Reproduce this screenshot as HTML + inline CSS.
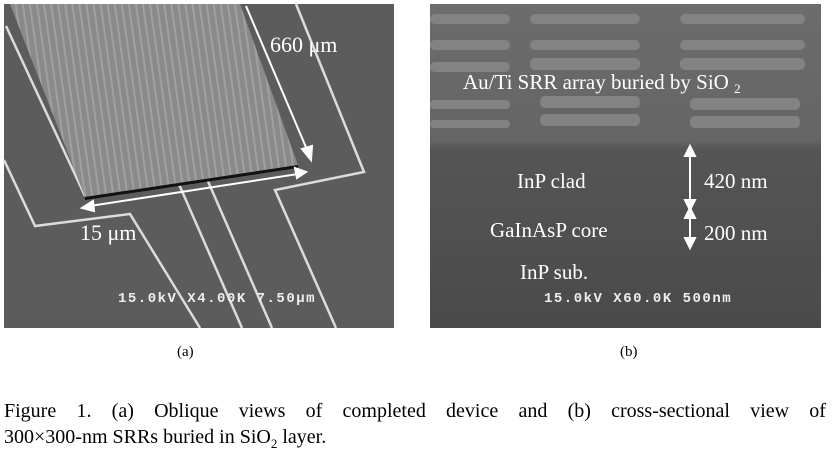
<!DOCTYPE html>
<html><head><meta charset="utf-8"><style>
body{margin:0;width:832px;height:457px;background:#fff;overflow:hidden;position:relative;font-family:"Liberation Serif",serif}
svg{position:absolute;left:0;top:0}
.cap{position:absolute;left:4px;width:822px;font-size:20px;line-height:26px;color:#000;top:398px}
.l1{white-space:nowrap;display:flex;justify-content:space-between}
.lab{position:absolute;font-size:15px;top:344px}
</style></head><body>
<svg width="832" height="457" viewBox="0 0 832 457">
<defs>
<pattern id="pl" width="7" height="7" patternUnits="userSpaceOnUse" patternTransform="rotate(-8)">
<rect width="7" height="7" fill="#8a8a8a"/><rect x="0" width="2" height="7" fill="#a0a0a0"/>
</pattern>
<linearGradient id="rb" x1="0" y1="0" x2="0" y2="1">
<stop offset="0" stop-color="#6c6c6c"/><stop offset="0.42" stop-color="#656565"/><stop offset="0.45" stop-color="#555"/><stop offset="1" stop-color="#4a4a4a"/>
</linearGradient>
</defs>
<rect x="4" y="4" width="390" height="324" fill="#5c5c5c"/>
<g fill="none" stroke="#dcdcdc" stroke-width="2.5">
<polyline points="4,160 35,226 130,214 200,328"/>
<polyline points="296,4 364,172 275,190 336,328"/>
<polyline points="178,182 242,328"/>
<polyline points="207,179 272,328"/>
<polyline points="6,26 85,196"/>
</g>
<polygon points="10,4 240,4 298,165 85,197" fill="url(#pl)"/>
<polygon points="85,197 298,165 298,168 85,200" fill="#111"/>
<g stroke="#fff" stroke-width="2" fill="#fff">
<line x1="246" y1="6" x2="308" y2="152"/><polygon points="311,160 302,149 312,146"/>
<line x1="90" y1="206" x2="298" y2="174"/><polygon points="82,208 93,201 94,211"/><polygon points="306,172 295,168 297,178"/>
</g>
<text x="270" y="52" font-family="Liberation Serif" font-size="22" fill="#fff">660 μm</text>
<text x="80" y="240" font-family="Liberation Serif" font-size="22" fill="#fff">15 μm</text>
<text x="118" y="302" font-family="Liberation Mono" font-size="14" font-weight="bold" fill="#eee" letter-spacing="1.5">15.0kV X4.00K 7.50μm</text>
<rect x="430" y="4" width="391" height="324" fill="url(#rb)"/>
<g fill="#8a8a8a" opacity="0.8">
<rect x="430" y="14" width="80" height="10" rx="5"/><rect x="530" y="14" width="110" height="10" rx="5"/><rect x="680" y="14" width="125" height="10" rx="5"/>
<rect x="430" y="40" width="80" height="10" rx="5"/><rect x="530" y="40" width="110" height="10" rx="5"/><rect x="680" y="40" width="125" height="10" rx="5"/>
<rect x="430" y="62" width="80" height="10" rx="5"/><rect x="530" y="58" width="110" height="12" rx="5"/><rect x="680" y="58" width="125" height="12" rx="5"/>
<rect x="430" y="100" width="80" height="9" rx="4"/><rect x="540" y="96" width="100" height="12" rx="5"/><rect x="690" y="98" width="110" height="12" rx="5"/>
<rect x="430" y="120" width="80" height="8" rx="4"/><rect x="540" y="114" width="100" height="12" rx="5"/><rect x="690" y="116" width="110" height="12" rx="5"/>
</g>
<text x="463" y="89" font-family="Liberation Serif" font-size="21" fill="#fff">Au/Ti  SRR array buried by SiO <tspan font-size="13" dy="4">2</tspan></text>
<text x="517" y="188" font-family="Liberation Serif" font-size="21" fill="#fff">InP clad</text>
<text x="490" y="237" font-family="Liberation Serif" font-size="21" fill="#fff">GaInAsP core</text>
<text x="520" y="279" font-family="Liberation Serif" font-size="21" fill="#fff">InP sub.</text>
<text x="704" y="188" font-family="Liberation Serif" font-size="21" fill="#fff">420 nm</text>
<text x="704" y="240" font-family="Liberation Serif" font-size="21" fill="#fff">200 nm</text>
<g stroke="#fff" stroke-width="2" fill="#fff">
<line x1="690" y1="152" x2="690" y2="204"/><polygon points="690,146 685,156 695,156"/><polygon points="690,210 685,200 695,200"/>
<line x1="690" y1="214" x2="690" y2="242"/><polygon points="690,208 685,218 695,218"/><polygon points="690,248 685,238 695,238"/>
</g>
<text x="544" y="302" font-family="Liberation Mono" font-size="14" font-weight="bold" fill="#eee" letter-spacing="1.5">15.0kV X60.0K  500nm</text>
</svg>
<div class="lab" style="left:177px">(a)</div>
<div class="lab" style="left:620px">(b)</div>
<div class="cap"><div class="l1"><span>Figure</span><span>1.</span><span>(a)</span><span>Oblique</span><span>views</span><span>of</span><span>completed</span><span>device</span><span>and</span><span>(b)</span><span>cross-sectional</span><span>view</span><span>of</span></div>300×300-nm SRRs buried in SiO<sub style="font-size:13px">2</sub> layer.</div>
</body></html>
